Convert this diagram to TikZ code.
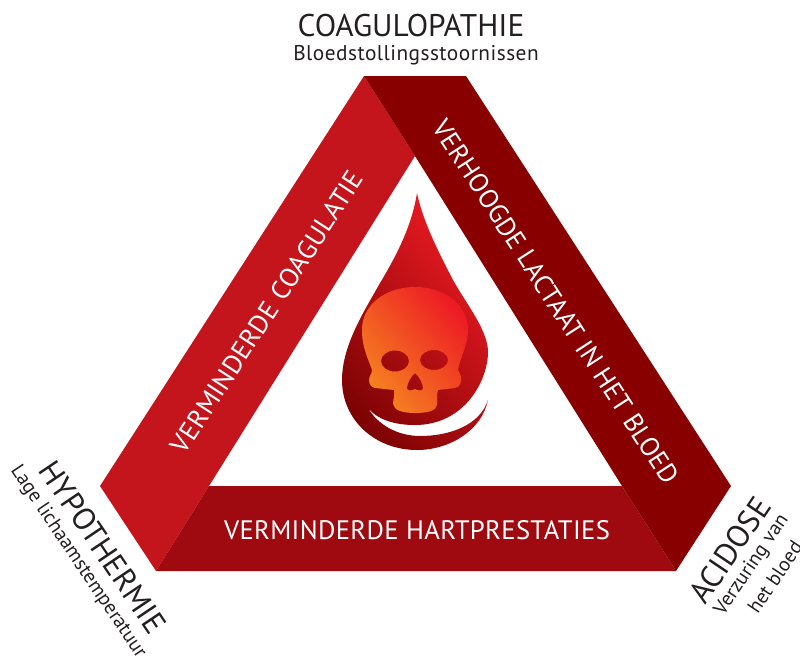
\documentclass[tikz,border=0pt]{standalone}
\usepackage{fontspec}
\usepackage{xcolor}
\setmainfont{PT Sans}
\definecolor{bandleft}{HTML}{C4151C}
\definecolor{bandbottom}{HTML}{9F0A10}
\definecolor{bandright}{HTML}{880000}
\definecolor{dropred}{HTML}{ED1C24}
\definecolor{droptop}{HTML}{FF1F28}
\definecolor{dropmid}{HTML}{C8161D}
\definecolor{dropbottom}{HTML}{700000}
\definecolor{skullorange}{HTML}{F58220}
\definecolor{inktext}{HTML}{231F20}
\tikzset{
	titlelabel/.style={text=inktext,font=\fontsize{23.5}{26}\selectfont,inner sep=0pt},
	sublabel/.style={text=inktext,font=\fontsize{15}{17}\selectfont,inner sep=0pt},
	bandlabel/.style={text=white,font=\fontsize{20}{22}\selectfont\addfontfeature{LetterSpace=1.2},inner sep=0pt}
}
\begin{document}
\begin{tikzpicture}[x=0.75pt,y=-0.75pt]
	\useasboundingbox (0,0) rectangle (800,661);
	\fill[bandleft] (364,76) -- (415,156) -- (209,486) -- (156,571) -- (100,486) -- cycle;
	\fill[bandbottom] (209,486) -- (622,486) -- (676,571) -- (156,571) -- cycle;
	\fill[bandright] (364,76) -- (466,76) -- (731,486) -- (676,571) -- (622,486) -- (415,156) -- cycle;
	\begin{scope}
		\clip (417,193) .. controls (423,222) and (440,255) .. (453,280)
			.. controls (465,302) and (488,330) .. (488,352)
			.. controls (488,380) and (465,425) .. (415,425)
			.. controls (395,425) and (378,420) .. (368,408)
			.. controls (378,425) and (398,436) .. (420,436)
			.. controls (450,436) and (480,425) .. (488,400)
			.. controls (482,430) and (450,450) .. (417,450)
			.. controls (375,450) and (342,420) .. (342,380)
			.. controls (342,345) and (365,310) .. (380,283)
			.. controls (397,255) and (412,225) .. (417,193) -- cycle;
		\shade[top color=droptop,middle color=dropmid,bottom color=dropbottom,shading angle=-50] (285,191) rectangle (545,451);
	\end{scope}
	\shade[top color=dropred,bottom color=skullorange,shading angle=-50,even odd rule]
		(415,287) .. controls (445,287) and (468,305) .. (468,330)
		.. controls (468,345) and (460,358) .. (458,370)
		.. controls (460,374) and (462,377) .. (461,381)
		.. controls (460,386) and (458,388) .. (455,388)
		-- (438,390) .. controls (436,396) and (438,400) .. (437,405)
		.. controls (436,410) and (430,413) .. (415,413)
		.. controls (402,413) and (394,410) .. (393,404)
		.. controls (393,399) and (395,395) .. (394,390)
		-- (375,388) .. controls (371,387) and (369,384) .. (369,380)
		.. controls (369,376) and (372,374) .. (372,370)
		.. controls (368,358) and (362,348) .. (362,330)
		.. controls (362,305) and (385,287) .. (415,287) -- cycle
		(395,361) ellipse [x radius=14,y radius=10.5]
		(434,360) ellipse [x radius=14,y radius=10]
		(415,373) .. controls (419,376) and (423,384) .. (423,388)
		.. controls (423,391) and (418,391) .. (415,389)
		.. controls (412,391) and (407,391) .. (407,388)
		.. controls (407,384) and (411,376) .. (415,373) -- cycle;
	\node[bandlabel,rotate=57] (coagulatie) at (267,312) {VERMINDERDE COAGULATIE};
	\node[bandlabel,rotate=-57,font=\fontsize{20}{22}\selectfont\addfontfeature{LetterSpace=0.1}] (lactaat) at (556,302) {VERHOOGDE LACTAAT IN HET BLOED};
	\node[bandlabel] (hart) at (417,530) {VERMINDERDE HARTPRESTATIES};
	\node[titlelabel] (coag) at (411,26) {COAGULOPATHIE};
	\node[sublabel,font=\fontsize{16}{18}\selectfont\addfontfeature{LetterSpace=2.2}] (bloed) at (416,55) {Bloedstollingsstoornissen};
	\node[titlelabel,rotate=-56] (hypo) at (103,547) {HYPOTHERMIE};
	\node[sublabel,rotate=-56] (lage) at (78,562) {Lage lichaamstemperatuur};
	\node[titlelabel,rotate=56] (acid) at (730,550) {ACIDOSE};
	\node[sublabel,rotate=56] (verz) at (752,565) {Verzuring van};
	\node[sublabel,rotate=56] (het) at (775,577) {het bloed};
\end{tikzpicture}
\end{document}
